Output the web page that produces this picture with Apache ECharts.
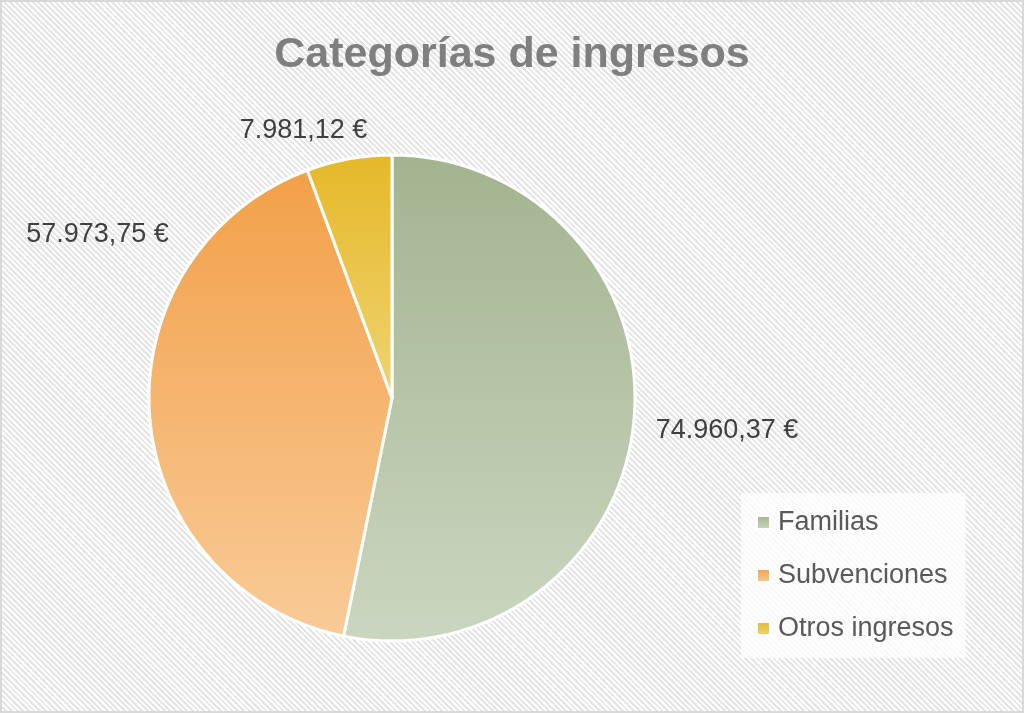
<!DOCTYPE html>
<html>
<head>
<meta charset="utf-8">
<script src="https://cdn.jsdelivr.net/npm/echarts@6/dist/echarts.min.js"></script>
<style>
  html, body { margin: 0; padding: 0; background: #fff; }
  #wrap {
    position: relative; width: 1024px; height: 713px; box-sizing: border-box;
    border: 2px solid #d9d9d9;
    background: repeating-linear-gradient(45deg, #ffffff 0px, #ffffff 2px, #e5e5e5 2px, #e5e5e5 4px);
  }
  #chart { position: absolute; left: -2px; top: -2px; width: 1024px; height: 713px; }
</style>
</head>
<body>
<div id="wrap"><div id="chart"></div></div>
<script>
const titleText = 'Categorías de ingresos';
const categories = ['Familias', 'Subvenciones', 'Otros ingresos'];
const values = [74960.37, 57973.75, 7981.12];
const topColors = ['#a3b38f', '#f2a048', '#e5b828'];
const bottomColors = ['#cbd6c0', '#f9cb98', '#f0d473'];

function fmtEuro(v) {
  const parts = v.toFixed(2).split('.');
  const intPart = parts[0].replace(/\B(?=(\d{3})+(?!\d))/g, '.');
  return intPart + ',' + parts[1] + ' €';
}

const labelShift = [[-5, 7], [46, -183], [33, -14]];

const data = categories.map((name, i) => ({
  name: name,
  value: values[i],
  itemStyle: {
    color: new echarts.graphic.LinearGradient(0, 0, 0, 1, [
      { offset: 0, color: topColors[i] },
      { offset: 1, color: bottomColors[i] }
    ])
  }
}));

const chart = echarts.init(document.getElementById('chart'), null, { renderer: 'canvas' });
chart.setOption({
  backgroundColor: 'transparent',
  animation: false,
  title: {
    text: titleText,
    left: 'center',
    top: 29,
    textStyle: { fontFamily: 'Liberation Sans', fontWeight: 'bold', fontSize: 43, color: '#7f7f7f' }
  },
  legend: {
    orient: 'vertical',
    left: 741,
    top: 493,
    padding: [16, 12, 16, 15],
    backgroundColor: 'rgba(255,255,255,0.75)',
    itemWidth: 13,
    itemHeight: 13,
    itemGap: 26,
    icon: 'rect',
    textStyle: { fontFamily: 'Liberation Sans', fontSize: 27, color: '#595959', padding: [0, 0, 0, 3] },
    data: categories
  },
  series: [{
    type: 'pie',
    center: [392, 398],
    radius: 243,
    startAngle: 90,
    clockwise: true,
    avoidLabelOverlap: false,
    itemStyle: { borderColor: '#ffffff', borderWidth: 3 },
    label: {
      show: true,
      position: 'outside',
      formatter: p => fmtEuro(p.value),
      fontFamily: 'Liberation Sans',
      fontSize: 27,
      color: '#404040'
    },
    labelLine: { show: false, length: 15, length2: 7 },
    labelLayout: function (p) {
      const s = labelShift[p.dataIndex];
      return { dx: s[0], dy: s[1] };
    },
    emphasis: { disabled: true },
    data: data
  }]
});
</script>
</body>
</html>
